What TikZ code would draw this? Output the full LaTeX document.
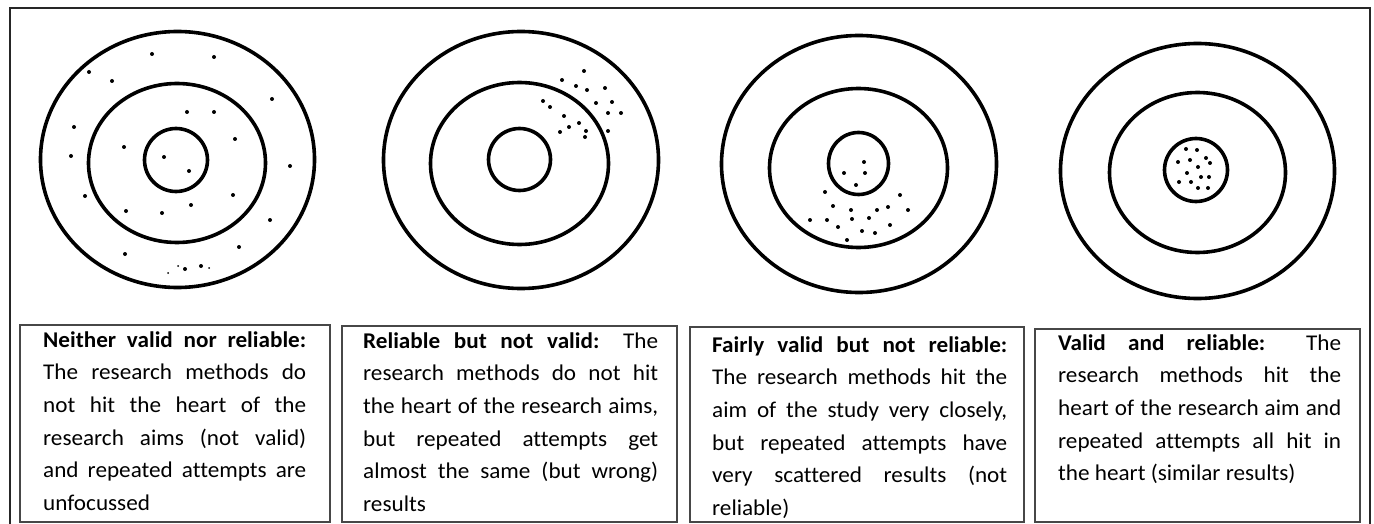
\documentclass[tikz,border=0pt]{standalone}
\usepackage{fontspec}
\setmainfont{Carlito}[FakeStretch=1.03, Ligatures=NoCommon]
\newcommand\JLine[1]{\hbox to \linewidth{#1}}
\newcommand\LLine[1]{\hbox to \linewidth{#1\hfil}}
\tikzset{
  ring/.style={draw=black, line width=3.6pt},
  shot/.style={fill=black},
  boxframe/.style={draw=black!72, line width=1.3pt},
  frameline/.style={draw=black!85, line width=2pt},
  caption/.style={anchor=base west, inner sep=0pt, font=\fontsize{22.5}{32.7}\selectfont}
}
\begin{document}
\begin{tikzpicture}[x=1pt, y=-1pt]
\useasboundingbox (0,0) rectangle (1374,524);
% outer frame (open at the bottom)
\draw[frameline] (10,524) -- (10,8) -- (1370,8) -- (1370,524);

% ---- target 1 ----
\draw[ring] (177.5,159.5) ellipse [x radius=137, y radius=128];
\draw[ring] (177,163) ellipse [x radius=88.5, y radius=79.5];
\draw[ring] (176,160) ellipse [x radius=31.5, y radius=31.5];
\foreach \p in {(152,54),(214,57),(89,72),(112,81),(272,99),(187,112),(214,112),(74,127),(235,139),(124,147),(71,156),(164,157),(290,166),(189,171),(85,196),(233,195),(191,205),(126,211),(162,213),(270,220),(239,247),(125,254),(185,269),(201,266)}
  \fill[shot] \p circle [radius=2];
\foreach \p in {(178,266),(209,268),(168,273)}
  \fill[shot] \p circle [radius=1];

% ---- target 2 ----
\draw[ring] (521,160) ellipse [x radius=137.5, y radius=128.5];
\draw[ring] (519.5,163.5) ellipse [x radius=89, y radius=81];
\draw[ring] (519.5,159.5) ellipse [x radius=31, y radius=31];
\foreach \p in {(584,71),(562,80),(576,86),(587,90),(605,88),(543,101),(550,107),(596,103),(612,102),(608,113),(621,113),(564,116),(569,127),(579,123),(586,131),(560,132),(585,137),(608,131)}
  \fill[shot] \p circle [radius=2];

% ---- target 3 ----
\draw[ring] (859,164) ellipse [x radius=137.5, y radius=128.5];
\draw[ring] (858.5,168) ellipse [x radius=89, y radius=79.5];
\draw[ring] (858.5,163.5) ellipse [x radius=30, y radius=31];
\foreach \p in {(864,162),(844,173),(865,173),(856,185),(825,192),(900,195),(833,206),(851,210),(877,210),(888,207),(908,210),(810,220),(827,220),(852,219),(869,218),(838,227),(890,225),(862,231),(875,233),(847,240)}
  \fill[shot] \p circle [radius=2];

% ---- target 4 ----
\draw[ring] (1197.5,171) ellipse [x radius=137, y radius=127.5];
\draw[ring] (1197.5,172.5) ellipse [x radius=88, y radius=80];
\draw[ring] (1196,170) ellipse [x radius=31.5, y radius=31.5];
\foreach \p in {(1186,149),(1197,150),(1178,162),(1190,160),(1206,158),(1210,163),(1198,167),(1187,173),(1201,177),(1209,177),(1179,182),(1191,182),(1198,188),(1208,188)}
  \fill[shot] \p circle [radius=2];

% ---- caption boxes ----
\draw[boxframe] (20,325) rectangle (330,522);
\node[caption] (t1) at (43,347) {\parbox[t]{263pt}{%
  \JLine{\bfseries Neither valid nor reliable:}
  \JLine{The research methods do}
  \JLine{not hit the heart of the}
  \JLine{research aims (not valid)}
  \JLine{and repeated attempts are}
  \LLine{unfocussed}}};

\draw[boxframe] (342,326) rectangle (677,522);
\node[caption] (t2) at (363,348) {\parbox[t]{295pt}{%
  \JLine{{\bfseries Reliable but not valid:} The}
  \JLine{research methods do not hit}
  \JLine{the heart of the research aims,}
  \JLine{but repeated attempts get}
  \JLine{almost the same (but wrong)}
  \LLine{results}}};

\draw[boxframe] (690,327) rectangle (1024,522);
\node[caption] (t3) at (712,352) {\parbox[t]{295pt}{%
  \JLine{\bfseries Fairly valid but not reliable:}
  \JLine{The research methods hit the}
  \JLine{aim of the study very closely,}
  \JLine{but repeated attempts have}
  \JLine{very scattered results (not}
  \LLine{reliable)}}};

\draw[boxframe] (1035,329) rectangle (1360,522);
\node[caption] (t4) at (1058,350) {\parbox[t]{283pt}{%
  \JLine{{\bfseries Valid and reliable:} The}
  \JLine{research methods hit the}
  \JLine{heart of the research aim and}
  \JLine{repeated attempts all hit in}
  \LLine{the heart (similar results)}}};
\end{tikzpicture}
\end{document}
